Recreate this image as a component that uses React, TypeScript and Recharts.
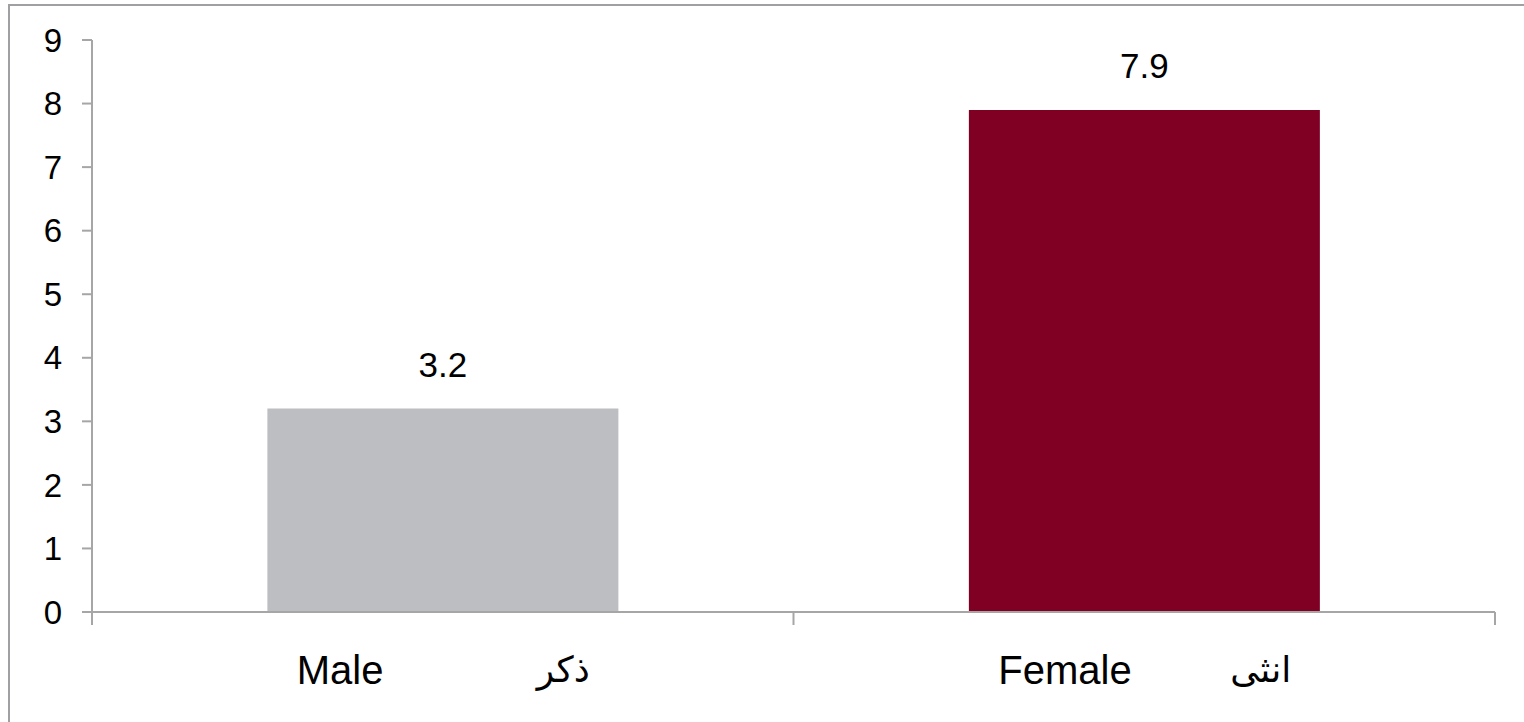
import React from "react";
import { BarChart, Bar, XAxis, YAxis, Cell, LabelList } from "recharts";

const categories = ["Male", "Female"];
const arabicLabels = ["ذكر", "انثى"];
const values = [3.2, 7.9];
const yTicks = [0, 1, 2, 3, 4, 5, 6, 7, 8, 9];
const barColors = ["#BDBEC2", "#800024"];

const data = categories.map((name, i) => ({
  name,
  value: values[i],
}));

const FONT = "'Liberation Sans', Arial, 'DejaVu Sans', sans-serif";
const AXIS = "#A6A6A6";

const CHART_W = 1510;
const CHART_H = 716;
const MARGIN = { top: 34, right: 25, bottom: 50, left: 0 };
const Y_AXIS_W = 82;
// width of one category band, used for the tick marks between categories
const STEP = (CHART_W - MARGIN.left - MARGIN.right - Y_AXIS_W) / categories.length;

function CategoryTick(props: any) {
  const { x, y, payload, index } = props;
  const last = index === categories.length - 1;
  return (
    <g>
      <line x1={x - STEP / 2} x2={x - STEP / 2} y1={y} y2={y + 13} stroke={AXIS} strokeWidth={2} />
      {last && (
        <line x1={x + STEP / 2} x2={x + STEP / 2} y1={y} y2={y + 13} stroke={AXIS} strokeWidth={2} />
      )}
      <text
        x={x - 146}
        y={y}
        dy={72}
        textAnchor="start"
        fontSize={40}
        fontFamily={FONT}
        fill="#000"
      >
        {payload.value}
      </text>
      <text
        x={x + 147}
        y={y}
        dy={70}
        textAnchor="end"
        fontSize={36}
        fontFamily={FONT}
        fill="#000"
      >
        {arabicLabels[index]}
      </text>
    </g>
  );
}

export default function App() {
  return (
    <div
      style={{
        position: "fixed",
        left: 0,
        top: 0,
        width: 1524,
        height: 722,
        overflow: "hidden",
        background: "#fff",
      }}
    >
      <div
        style={{
          position: "absolute",
          left: 8,
          top: 4,
          width: 1540,
          height: 760,
          border: "2px solid #A0A0A4",
        }}
      >
        <BarChart
          width={CHART_W}
          height={CHART_H}
          data={data}
          barCategoryGap="25%"
          margin={MARGIN}
        >
          <XAxis
            dataKey="name"
            height={60}
            stroke={AXIS}
            strokeWidth={2}
            tickLine={false}
            tickSize={0}
            tickMargin={0}
            interval={0}
            tick={<CategoryTick />}
          />
          <YAxis
            width={Y_AXIS_W}
            domain={[0, 9]}
            ticks={yTicks}
            interval={0}
            stroke={AXIS}
            strokeWidth={2}
            tickSize={10}
            tickMargin={20}
            tick={{ fill: "#000", fontSize: 33, fontFamily: FONT }}
          />
          <Bar dataKey="value" isAnimationActive={false}>
            {data.map((_d, i) => (
              <Cell key={i} fill={barColors[i]} />
            ))}
            <LabelList
              dataKey="value"
              position="top"
              offset={32}
              fill="#000"
              fontSize={35}
              fontFamily={FONT}
            />
          </Bar>
        </BarChart>
      </div>
    </div>
  );
}
